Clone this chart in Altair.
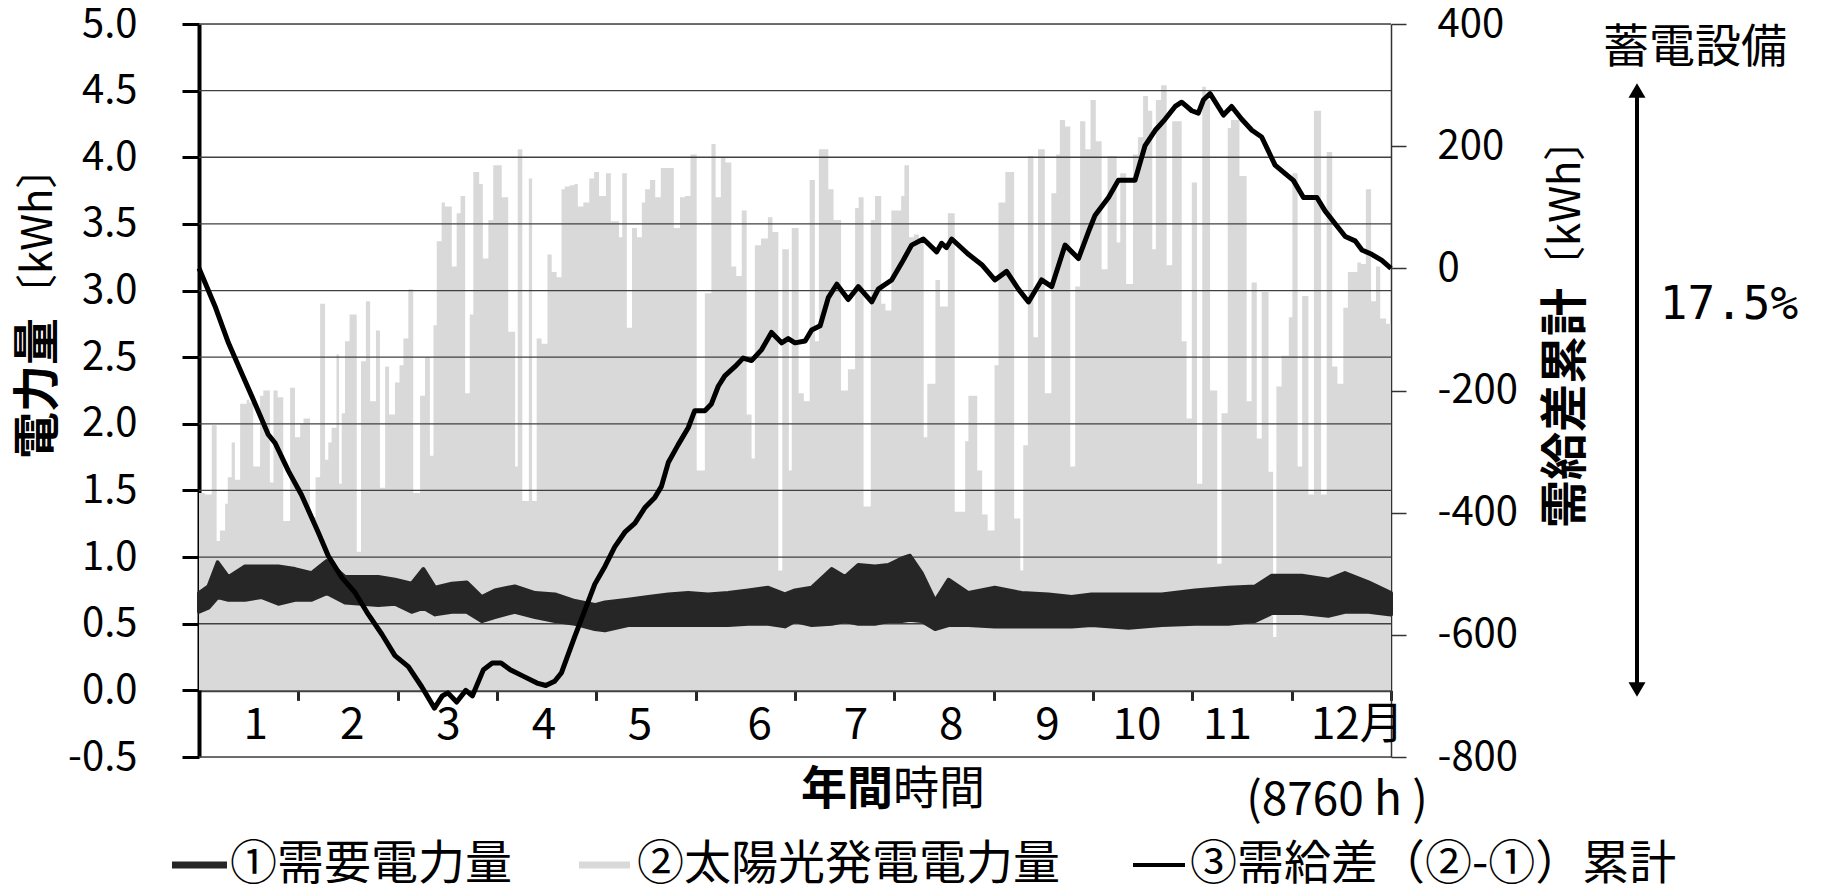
import altair as alt
import pandas as pd

FONT = "Noto Sans CJK JP"

# ---- ② solar generation: day of year, daily peak [kWh] ----
solar_day = [
    0.0, 1.8, 3.9, 5.4, 6.4, 8.0, 8.8, 10.0, 11.0, 12.6, 14.6, 15.4, 16.6, 18.7, 19.7, 21.7, 22.8, 24.1, 25.8, 27.9, 29.4,
    31.0, 32.0, 34.0, 35.7, 37.1, 38.6, 39.6, 40.6, 42.1, 42.9, 43.7, 44.7, 46.1, 48.3, 49.6, 51.1, 52.4, 54.2, 55.4, 57.0, 58.2,
    60.0, 61.4, 62.6, 64.1, 65.6, 67.7, 69.2, 70.7, 71.8, 72.8, 74.3, 75.3, 77.4, 78.9, 80.1, 81.5, 82.9, 84.0, 85.8, 86.9, 88.6, 90.1,
    92.7, 94.7, 96.8, 97.6, 99.0, 101.0, 102.0, 103.4, 104.9, 106.7, 108.0, 109.5, 111.0, 112.0, 113.5, 115.0, 116.0, 117.7, 119.5,
    121.0, 122.5, 124.6, 126.1, 128.6, 129.6, 131.0, 132.6, 134.1, 135.6, 136.6, 138.1, 139.7, 141.4, 143.9, 145.4, 147.3, 148.8, 150.5,
    152.4, 154.9, 156.9, 158.2, 159.8, 161.2, 163.0, 164.5, 166.2, 167.7, 169.2, 170.2, 172.1, 174.2, 175.6, 177.4, 178.6, 180.6, 181.5,
    183.6, 185.2, 187.0, 188.6, 189.8, 191.0, 192.7, 194.3, 196.6, 198.7, 200.9, 202.0, 203.5, 205.7, 207.0, 208.9, 210.2, 212.0,
    213.3, 215.0, 216.0, 217.4, 218.9, 220.4, 221.9, 223.0, 225.5, 226.9, 229.3, 231.4, 232.6, 234.6, 235.6, 238.3, 239.8, 241.5,
    243.6, 244.8, 246.9, 249.6, 251.5, 252.4, 253.8, 255.5, 256.9, 259.0, 261.0, 262.5, 263.6, 265.2, 266.8, 268.3, 269.8, 271.4, 273.0,
    274.6, 276.4, 278.2, 281.0, 282.1, 283.9, 286.0, 287.5, 289.1, 290.6, 291.9, 293.0, 294.6, 296.3, 298.0, 300.9, 302.4, 304.0,
    305.6, 307.2, 308.3, 309.6, 311.8, 313.1, 315.0, 316.0, 318.6, 320.8, 322.3, 323.9, 325.4, 327.5, 328.9, 329.9, 331.5, 333.7,
    334.8, 336.4, 337.8, 339.7, 341.4, 343.6, 345.3, 347.0, 348.6, 350.4, 351.8, 353.1, 354.7, 355.8, 357.3, 358.9, 360.4, 361.7, 363.5, 365.0,
]
solar_kwh = [
    1.48, 1.47, 1.99, 1.12, 1.20, 1.40, 1.60, 1.86, 1.58, 2.15, 2.18, 2.16, 1.68, 2.21, 2.25, 1.56, 2.25, 2.20, 1.27, 2.27, 1.90,
    2.00, 2.04, 1.30, 1.60, 2.90, 1.73, 1.86, 1.97, 2.52, 1.55, 2.08, 2.62, 2.82, 1.04, 2.47, 2.92, 2.17, 2.70, 1.52, 2.43, 2.07,
    2.31, 2.44, 2.64, 3.01, 1.48, 2.21, 2.50, 1.76, 2.74, 3.37, 3.66, 3.63, 3.18, 3.58, 3.71, 2.23, 2.82, 3.89, 3.80, 3.24, 3.53, 3.94,
    3.70, 2.69, 1.68, 4.06, 1.42, 3.84, 1.42, 2.64, 2.60, 3.27, 3.14, 3.10, 3.76, 3.78, 3.79, 3.80, 3.63, 3.66, 3.84,
    3.89, 3.71, 3.88, 3.52, 3.40, 3.88, 2.72, 3.47, 3.40, 3.66, 3.76, 3.83, 3.70, 3.92, 3.92, 3.47, 3.70, 3.71, 4.02,
    1.65, 2.98, 4.10, 3.70, 4.00, 3.96, 3.18, 3.11, 3.60, 2.07, 1.74, 3.34, 3.39, 3.55, 3.44, 0.90, 3.31, 1.65, 3.47,
    2.23, 2.17, 3.83, 2.62, 4.06, 4.06, 3.76, 3.53, 2.25, 2.41, 3.62, 3.70, 1.38, 3.53, 3.71, 2.90, 2.85, 3.60,
    3.60, 3.71, 3.94, 3.40, 3.42, 3.37, 1.90, 2.30, 3.08, 2.88, 3.58, 1.34, 1.34, 1.87, 2.21, 1.65, 1.32, 1.20,
    2.44, 3.66, 3.89, 1.29, 0.90, 1.84, 4.01, 2.65, 4.06, 2.23, 3.73, 4.02, 4.28, 4.23, 1.68, 3.03, 4.27, 4.06, 4.43,
    4.12, 3.16, 4.01, 3.36, 3.88, 3.05, 4.02, 4.15, 4.46, 4.35, 3.31, 4.43, 4.54, 3.19, 4.27, 2.62, 2.04, 3.81,
    1.55, 4.53, 4.43, 2.25, 0.95, 2.08, 4.22, 4.28, 3.86, 2.17, 3.06, 1.89, 2.99, 1.64, 0.40, 2.28, 2.51, 2.80,
    3.88, 1.68, 2.96, 1.47, 4.35, 1.47, 4.04, 2.43, 2.30, 2.87, 3.14, 3.14, 3.21, 3.20, 3.76, 2.92, 3.18, 2.79, 2.75, 2.75,
]

# ---- ① demand: day of year, band of hourly values [kWh] ----
dem_day = [0, 2.9, 5.7, 9.0, 14.1, 19.2, 24.3, 29.4, 34.5, 39.1, 44.7, 49.8, 54.9, 60.0, 65.1, 68.7, 72.3, 77.4, 82.0, 86.6,
           90.6, 96.7, 102.9, 109.0, 115.1, 121.2, 124.3, 131.4, 137.6, 143.7, 149.8, 155.9, 162.0, 168.2, 174.3, 179.4,
           182.5, 187.6, 193.7, 197.8, 201.9, 207.0, 211.1, 215.2, 217.7, 221.3, 225.4, 229.5, 235.6, 243.7, 251.9, 260.1,
           267.2, 273.3, 284.6, 294.8, 305.0, 315.2, 323.4, 328.5, 337.7, 345.8, 350.9, 358.1, 365.0]
dem_hi = [0.73, 0.78, 0.96, 0.85, 0.93, 0.93, 0.93, 0.91, 0.88, 0.97, 0.85, 0.85, 0.85, 0.83, 0.80, 0.91, 0.77, 0.80, 0.81, 0.70,
          0.75, 0.78, 0.73, 0.72, 0.67, 0.64, 0.66, 0.68, 0.70, 0.72, 0.73, 0.72, 0.73, 0.75, 0.77, 0.72,
          0.75, 0.77, 0.91, 0.85, 0.94, 0.93, 0.94, 0.99, 1.01, 0.88, 0.67, 0.83, 0.73, 0.77, 0.73, 0.72,
          0.70, 0.72, 0.72, 0.72, 0.75, 0.77, 0.78, 0.86, 0.86, 0.83, 0.88, 0.81, 0.73]
dem_lo = [0.59, 0.62, 0.70, 0.68, 0.68, 0.70, 0.65, 0.68, 0.68, 0.73, 0.66, 0.65, 0.64, 0.65, 0.59, 0.62, 0.57, 0.59, 0.59, 0.52,
          0.55, 0.59, 0.55, 0.52, 0.50, 0.46, 0.45, 0.49, 0.49, 0.49, 0.49, 0.49, 0.49, 0.50, 0.50, 0.48,
          0.52, 0.49, 0.50, 0.52, 0.50, 0.50, 0.52, 0.52, 0.53, 0.52, 0.46, 0.49, 0.49, 0.48, 0.48, 0.48,
          0.48, 0.49, 0.47, 0.49, 0.50, 0.50, 0.52, 0.58, 0.58, 0.56, 0.59, 0.59, 0.57]

# ---- ③ cumulative supply-demand difference [kWh] (right axis) ----
cum_day = [0, 4.9, 9.0, 13.1, 17.2, 21.2, 23.3, 27.4, 31.4, 36.5, 39.6, 43.7, 47.8, 51.9, 56.0, 60.0, 64.1, 68.2, 72.1, 74.5,
           76.2, 78.9, 81.7, 83.7, 87.1, 89.8, 92.5, 95.3, 99.4, 103.5, 106.2, 108.9, 111.0, 115.1, 118.2, 121.2, 124.3, 127.3,
           130.4, 133.5, 136.5, 139.6, 141.6, 143.7, 146.7, 149.8, 151.8, 154.9, 156.9, 159.0, 161.0, 164.1, 166.6, 169.2,
           172.3, 175.3, 178.4, 180.4, 182.5, 185.6, 187.6, 190.2, 192.7, 195.3, 198.8, 201.9, 206.0, 208.0, 212.1, 215.2,
           218.2, 221.8, 225.9, 227.4, 228.9, 230.5, 235.6, 239.7, 243.7, 247.3, 250.9, 254.0, 258.0, 261.1, 265.2, 269.3,
           272.3, 274.4, 278.5, 281.5, 284.6, 286.6, 289.7, 292.8, 295.8, 298.9, 300.9, 304.0, 306.0, 307.6, 309.6, 313.7,
           316.2, 319.3, 322.4, 325.4, 329.5, 332.6, 335.1, 338.2, 342.3, 344.8, 347.9, 351.0, 354.0, 356.1, 359.1, 362.2, 365.0]
cum_kwh = [0, -62, -122, -172, -222, -272, -286, -332, -371, -432, -471, -506, -531, -567, -599, -634, -652, -685, -720, -700,
           -695, -710, -691, -700, -657, -646, -646, -657, -668, -679, -683, -676, -662, -602, -559, -517, -488, -456,
           -432, -417, -392, -375, -357, -318, -289, -261, -233, -233, -222, -193, -176, -161, -147, -151,
           -133, -105, -122, -115, -122, -119, -101, -94, -48, -26, -51, -30, -55, -34, -19, 9,
           38, 48, 27, 41, 34, 48, 23, 6, -19, -5, -34, -55, -19, -30, 38, 16,
           59, 87, 116, 144, 144, 144, 201, 226, 244, 265, 272, 258, 254, 276, 286, 251,
           265, 244, 226, 215, 169, 155, 144, 116, 116, 94, 73, 52, 45, 30, 23, 13, 0]

month_labels = ["1", "2", "3", "4", "5", "6", "7", "8", "9", "10", "11", "12月"]
month_label_day = [17.4, 46.9, 76.4, 105.6, 135.0, 171.7, 201.2, 230.3, 259.8, 287.2, 314.9, 354.7]
month_bounds = [i * 365 / 12 for i in range(13)]
left_ticks = [-0.5, 0.0, 0.5, 1.0, 1.5, 2.0, 2.5, 3.0, 3.5, 4.0, 4.5, 5.0]
grid_values = [-0.5, 0.5, 1.0, 1.5, 2.0, 2.5, 3.0, 3.5, 4.0, 4.5, 5.0]
right_ticks = [-800, -600, -400, -200, 0, 200, 400]

legend_texts = ["①需要電力量", "②太陽光発電電力量", "③需給差（②-①）累計"]

# ---------------------------------------------------------------------------
W, H = 1192, 733
xscale = alt.Scale(domain=[0, 365], nice=False, zero=False)
yl = alt.Scale(domain=[-0.5, 5.0], nice=False, zero=False)
yr = alt.Scale(domain=[-800, 400], nice=False, zero=False)
fix_minus = "replace(datum.label, '\u2212', '-')"

solar_df = pd.DataFrame({"day": solar_day, "kwh": solar_kwh})
dem_df = pd.DataFrame({"day": dem_day, "hi": dem_hi, "lo": dem_lo})
cum_df = pd.DataFrame({"day": cum_day, "kwh": cum_kwh})
mlab_df = pd.DataFrame({"day": month_label_day, "t": month_labels})
grid_df = pd.DataFrame({"g": grid_values})

zero_offset = -(H - H * 5.0 / 5.5)

X_AXIS = alt.Axis(
    values=month_bounds, labels=False, title=None, grid=False, tickSize=10, tickWidth=3,
    tickColor="#262626", domainColor="#404040", domainWidth=3, offset=zero_offset)
YL_AXIS = alt.Axis(
    values=left_ticks, format=".1f", labelExpr=fix_minus, title=None, grid=False, tickSize=17,
    tickWidth=3, tickColor="black", domainColor="black", domainWidth=4, labelFontSize=40,
    labelFont=FONT, labelPadding=45, labelColor="black")
YR_AXIS = alt.Axis(
    orient="right", values=right_ticks, format="d", labelExpr=fix_minus, title=None, grid=False,
    tickSize=15, tickWidth=1.5, tickColor="#333333", domainColor="#333333", domainWidth=1.5,
    labelFontSize=40, labelFont=FONT, labelPadding=31, labelColor="black")

solar = alt.Chart(solar_df).mark_area(interpolate="step-after", color="#d9d9d9").encode(
    x=alt.X("day:Q", scale=xscale, axis=X_AXIS),
    y=alt.Y("kwh:Q", scale=yl, axis=YL_AXIS),
    y2=alt.datum(0),
)

grid = alt.Chart(grid_df).mark_rule(color="#404040", strokeWidth=1.3).encode(
    y=alt.Y("g:Q", scale=yl, axis=YL_AXIS))

demand = alt.Chart(dem_df).mark_area(color="#262626", stroke="#262626", strokeWidth=4,
                                     strokeJoin="round").encode(
    x=alt.X("day:Q", scale=xscale, axis=X_AXIS),
    y=alt.Y("hi:Q", scale=yl, axis=YL_AXIS),
    y2="lo:Q",
)

mlabels = alt.Chart(mlab_df).mark_text(font=FONT, fontSize=44, align="center", baseline="middle",
                                       color="black").encode(
    x=alt.X("day:Q", scale=xscale, axis=X_AXIS),
    y=alt.value(702),
    text="t:N",
)

left_layer = alt.layer(solar, grid, demand, mlabels)

cum = alt.Chart(cum_df).mark_line(color="black", strokeWidth=5, strokeJoin="round").encode(
    x=alt.X("day:Q", scale=xscale, axis=X_AXIS),
    y=alt.Y("kwh:Q", scale=yr, axis=YR_AXIS),
)


def text(t, x, y, size=46, weight="normal", align="center", angle=0, font=FONT):
    kw = dict(font=font, fontSize=size, fontWeight=weight, align=align, baseline="middle", color="black")
    if angle:
        kw["angle"] = angle
    return alt.Chart(pd.DataFrame({"t": [t]})).mark_text(**kw).encode(
        x=alt.value(x), y=alt.value(y), text="t:N")


annotations = [
    # left axis title
    text("電力量", -160, 294, size=47, weight="bold", align="right", angle=270),
    text("〔kWh〕", -160, 292, size=42, align="left", angle=270),
    # right axis title
    text("需給差累計", 1368, 264, size=48, weight="bold", align="right", angle=270),
    text("〔kWh〕", 1368, 264, size=42, align="left", angle=270),
    # x axis title
    text("年間", 694, 766, size=46, weight="bold", align="right"),
    text("時間", 694, 766, size=46, align="left"),
    text("(8760 h )", 1138, 777, size=46),
    # storage annotation
    text("蓄電設備", 1496, 24, size=46),
    text("17.5%", 1530, 281, size=46, font="DejaVu Sans Mono"),
]

arrow_shaft = alt.Chart(pd.DataFrame({"a": [0]})).mark_rule(color="black", strokeWidth=4).encode(
    x=alt.value(1438), y=alt.value(68), y2=alt.value(664))
arrow_up = alt.Chart(pd.DataFrame({"a": [0]})).mark_point(
    shape="triangle-up", filled=True, size=290, color="black", opacity=1).encode(
    x=alt.value(1438), y=alt.value(66.5))
arrow_down = alt.Chart(pd.DataFrame({"a": [0]})).mark_point(
    shape="triangle-down", filled=True, size=290, color="black", opacity=1).encode(
    x=alt.value(1438), y=alt.value(665.5))

LEG_Y = 841
legend_marks = [
    alt.Chart(pd.DataFrame({"a": [0]})).mark_rule(color="#262626", strokeWidth=7).encode(
        x=alt.value(-27), x2=alt.value(28), y=alt.value(LEG_Y)),
    text(legend_texts[0], 31, LEG_Y, size=47, align="left"),
    alt.Chart(pd.DataFrame({"a": [0]})).mark_rule(color="#d9d9d9", strokeWidth=7).encode(
        x=alt.value(380), x2=alt.value(431), y=alt.value(LEG_Y)),
    text(legend_texts[1], 438, LEG_Y, size=47, align="left"),
    alt.Chart(pd.DataFrame({"a": [0]})).mark_rule(color="black", strokeWidth=4).encode(
        x=alt.value(934), x2=alt.value(986), y=alt.value(LEG_Y)),
    text(legend_texts[2], 991, LEG_Y, size=47, align="left"),
]

chart = alt.layer(
    left_layer, cum, *annotations, arrow_shaft, arrow_up, arrow_down, *legend_marks
).resolve_scale(y="independent").properties(
    width=W, height=H,
    autosize=alt.AutoSizeParams(type="none"),
    padding={"left": 191, "top": 16, "right": 410, "bottom": 132},
).configure_view(stroke=None).configure(background="white")

chart.save("out.html", embed_options={"renderer": "svg", "actions": False})
